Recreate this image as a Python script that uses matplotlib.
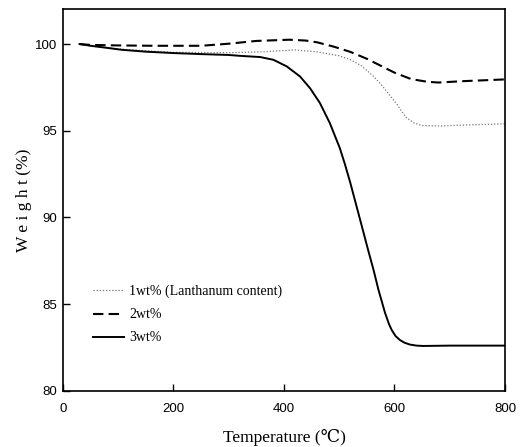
import matplotlib
matplotlib.use('Agg')
import matplotlib.pyplot as plt

# TGA curves
temp_1wt = [30, 60, 106, 200, 300, 360, 420, 460, 500, 520, 540, 560, 575, 590, 605, 620, 635, 650, 680, 720, 800]
w_1wt = [100, 99.85, 99.7, 99.52, 99.5, 99.55, 99.66, 99.55, 99.32, 99.1, 98.75, 98.2, 97.7, 97.1, 96.5, 95.8, 95.45, 95.3, 95.27, 95.32, 95.4]

temp_2wt = [30, 50, 100, 166, 250, 300, 350, 410, 440, 460, 490, 520, 550, 575, 600, 630, 660, 680, 725, 800]
w_2wt = [100, 99.95, 99.92, 99.9, 99.9, 100.02, 100.18, 100.25, 100.2, 100.1, 99.85, 99.55, 99.15, 98.75, 98.35, 97.98, 97.82, 97.78, 97.86, 97.96]

temp_3wt = [30, 50, 80, 106, 150, 200, 250, 300, 320, 357, 381, 405, 429, 447, 465, 483, 501, 510, 520, 530,
            540, 552, 562, 571, 583, 590, 595, 602, 610, 618, 628, 640, 652, 700, 800]
w_3wt = [100, 99.9, 99.78, 99.67, 99.56, 99.48, 99.42, 99.37, 99.32, 99.25, 99.09, 98.71, 98.13, 97.46, 96.6, 95.44, 94.0, 93.1, 92.0, 90.8,
         89.6, 88.15, 86.98, 85.82, 84.48, 83.85, 83.5, 83.15, 82.92, 82.77, 82.66, 82.6, 82.58, 82.6, 82.6]

labels = ['1wt% (Lanthanum content)', '2wt%', '3wt%']

serif = ['Liberation Serif', 'DejaVu Serif']

fig = plt.figure(figsize=(5.24, 4.47), dpi=100)
ax = fig.add_axes([0.1202, 0.126, 0.8435, 0.853])

ax.plot(temp_1wt, w_1wt, color='#777777', linestyle=(0, (1, 1.5)), linewidth=0.9, label=labels[0])
ax.plot(temp_2wt, w_2wt, color='black', linestyle=(0, (5, 2.5)), linewidth=1.5, label=labels[1])
ax.plot(temp_3wt, w_3wt, color='black', linestyle='-', linewidth=1.4, label=labels[2])

ax.set_xlim(0, 800)
ax.set_ylim(80, 102)
ax.set_xticks([0, 200, 400, 600, 800])
ax.set_yticks([80, 85, 90, 95, 100])
ax.tick_params(direction='in', length=5, width=1, labelsize=9.5)
ax.tick_params(axis='x', pad=9)
ax.tick_params(axis='y', pad=4)
for lab in ax.get_xticklabels() + ax.get_yticklabels():
    lab.set_family(['Liberation Sans', 'DejaVu Sans'])
for sp in ax.spines.values():
    sp.set_linewidth(1.2)

ax.set_xlabel('Temperature (\u2103)', family=serif, fontsize=12.5, labelpad=10)
ax.set_ylabel('W e i g h t (%)', family=serif, fontsize=12.5, labelpad=2)

leg = ax.legend(loc='upper left', bbox_to_anchor=(0.04, 0.31), frameon=False,
                prop={'family': serif, 'size': 10}, handlelength=2.2,
                handletextpad=0.4, labelspacing=0.72)

plt.savefig('out.png', dpi=100)
